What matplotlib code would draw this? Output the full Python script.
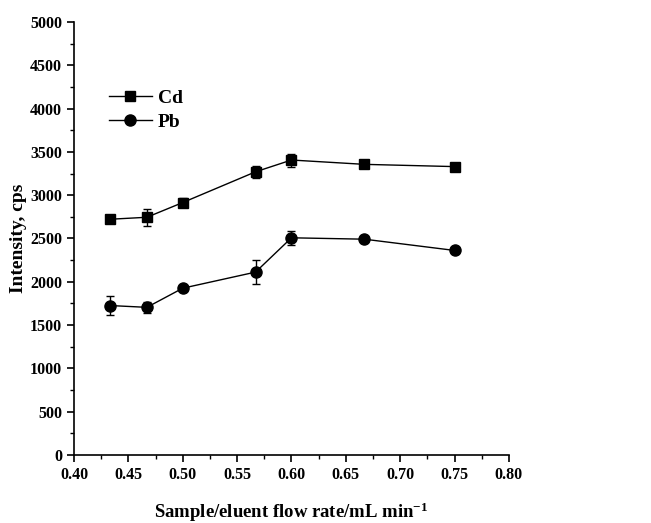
import matplotlib
matplotlib.use("Agg")
import matplotlib.pyplot as plt
from matplotlib.ticker import MultipleLocator

# dane
flow_rate = [0.433, 0.467, 0.500, 0.567, 0.600, 0.667, 0.750]
cd = [2722, 2745, 2915, 3270, 3406, 3356, 3330]
cd_err = [30, 97, 55, 70, 75, 25, 25]
pb = [1726, 1705, 1926, 2112, 2508, 2492, 2362]
pb_err = [110, 60, 25, 140, 80, 35, 20]

plt.rcParams["font.family"] = ["Liberation Serif", "DejaVu Serif"]
plt.rcParams["font.weight"] = "bold"
plt.rcParams["mathtext.fontset"] = "custom"
plt.rcParams["mathtext.rm"] = "Liberation Serif:bold"
plt.rcParams["mathtext.bf"] = "Liberation Serif:bold"
plt.rcParams["mathtext.default"] = "bf"

fig = plt.figure(figsize=(6.51, 5.23), dpi=100)
ax = fig.add_axes([0.1137, 0.130, 0.668, 0.828])

ax.errorbar(flow_rate, cd, yerr=cd_err, color="black", marker="s", markersize=7,
            linewidth=1, elinewidth=1, capsize=3, capthick=1, label="Cd")
ax.errorbar(flow_rate, pb, yerr=pb_err, color="black", marker="o", markersize=8,
            linewidth=1, elinewidth=1, capsize=3, capthick=1, label="Pb")

ax.set_xlim(0.40, 0.80)
ax.set_ylim(0, 5000)
ax.xaxis.set_major_locator(MultipleLocator(0.05))
ax.xaxis.set_minor_locator(MultipleLocator(0.025))
ax.yaxis.set_major_locator(MultipleLocator(500))
ax.yaxis.set_minor_locator(MultipleLocator(250))
ax.xaxis.set_major_formatter(plt.FormatStrFormatter("%.2f"))

ax.spines["top"].set_visible(False)
ax.spines["right"].set_visible(False)
ax.spines["left"].set_linewidth(1.2)
ax.spines["bottom"].set_linewidth(1.2)
ax.tick_params(which="major", direction="out", length=5, width=1.2, labelsize=11.5)
ax.tick_params(which="minor", direction="out", length=3, width=1.0)
for lab in ax.get_xticklabels() + ax.get_yticklabels():
    lab.set_fontweight("bold")

ax.set_xlabel("Sample/eluent flow rate/mL min$^{-1}$", fontsize=13.5, fontweight="bold", labelpad=13)
ax.set_ylabel("Intensity, cps", fontsize=14, fontweight="bold", labelpad=2)

handles, labels = ax.get_legend_handles_labels()
handles = [h[0] for h in handles]
ax.legend(handles, labels, loc="upper left", bbox_to_anchor=(0.04, 0.885), frameon=False,
          prop={"size": 14, "weight": "bold"}, handlelength=2.2, handletextpad=0.3,
          labelspacing=0.35)

fig.savefig("out.png", dpi=100)
